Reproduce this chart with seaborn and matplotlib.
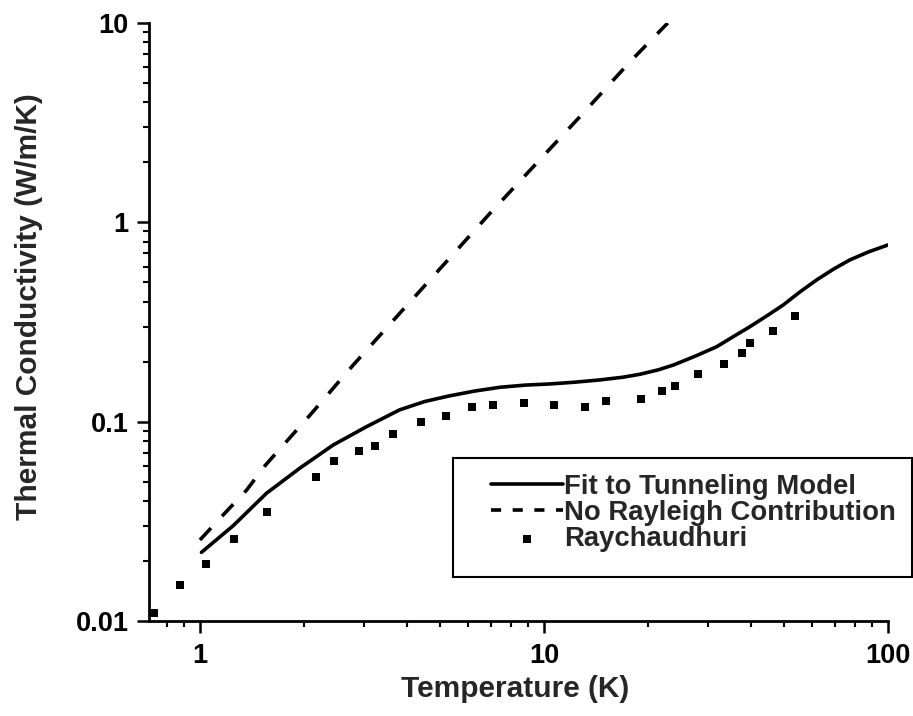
import matplotlib

matplotlib.use("Agg", force=True)
import matplotlib.pyplot as plt
import matplotlib.patches as mpatches
import matplotlib.ticker as mticker
import seaborn as sns

# Fit to tunneling model (solid)
FIT_T = [1.01, 1.25, 1.56, 1.95, 2.44, 3.05, 3.8, 4.5, 5.3, 6.3, 7.45, 8.8, 10.4, 12.3,
         14.5, 17.0, 19.0, 21.5, 23.8, 27.5, 31.8, 35.5, 39.7, 44.5, 49.6, 55.5, 62.0,
         69.5, 77.5, 88.0, 100.0]
FIT_K = [0.0221, 0.0301, 0.0437, 0.0584, 0.0764, 0.0944, 0.1145, 0.1262, 0.1346, 0.1425,
         0.1488, 0.1525, 0.1546, 0.1578, 0.1619, 0.1672, 0.1729, 0.1820, 0.1925, 0.2130,
         0.2379, 0.2670, 0.2997, 0.3400, 0.3850, 0.4480, 0.5140, 0.5830, 0.6480, 0.7120,
         0.7700]

# No Rayleigh contribution (dashed)
NR_T = [1.0, 1.156, 1.367, 1.55, 2.09, 2.79, 3.77, 5.10, 6.97, 13.0, 17.8, 22.9]
NR_K = [0.0255, 0.0334, 0.0454, 0.0605, 0.108, 0.1925, 0.343, 0.611, 1.111, 3.53, 6.40, 10.0]

# Raychaudhuri data (squares)
RAY_T = [0.735, 0.875, 1.04, 1.26, 1.57, 2.17, 2.45, 2.90, 3.23, 3.63, 4.40, 5.19, 6.18,
         7.10, 8.73, 10.7, 13.2, 15.1, 19.2, 22.0, 24.1, 28.0, 33.4, 37.6, 39.6, 46.2, 53.8]
RAY_K = [0.0110, 0.0152, 0.0194, 0.0258, 0.0352, 0.0530, 0.0633, 0.0713, 0.0758, 0.0867,
         0.0993, 0.107, 0.1186, 0.1213, 0.1234, 0.1213, 0.1181, 0.1263, 0.1292, 0.1426,
         0.1504, 0.1741, 0.1954, 0.2204, 0.2491, 0.2862, 0.3392]

W, H = 913, 716


def set_style() -> None:
    sns.set_theme(style="ticks")
    plt.rcParams["font.family"] = ["Liberation Sans", "DejaVu Sans"]
    plt.rcParams["font.weight"] = "bold"
    plt.rcParams["axes.linewidth"] = 2.0
    plt.rcParams["axes.edgecolor"] = "black"
    for ax_name in ("xtick", "ytick"):
        plt.rcParams[f"{ax_name}.color"] = "black"
        plt.rcParams[f"{ax_name}.major.size"] = 8.5
        plt.rcParams[f"{ax_name}.minor.size"] = 4.5
        plt.rcParams[f"{ax_name}.major.width"] = 1.8
        plt.rcParams[f"{ax_name}.minor.width"] = 1.5
        plt.rcParams[f"{ax_name}.major.pad"] = 6
        plt.rcParams[f"{ax_name}.labelsize"] = 19.5


def main() -> None:
    set_style()
    fig = plt.figure(figsize=(W / 100, H / 100), dpi=100)
    ax = fig.add_axes([149 / W, 1 - 621 / H, (888 - 149) / W, (621 - 23) / H])

    sns.lineplot(x=FIT_T, y=FIT_K, color="black", linewidth=2.6, sort=False,
                 label="Fit to Tunneling Model", ax=ax)
    sns.lineplot(x=NR_T, y=NR_K, color="black", linewidth=2.6, sort=False,
                 linestyle=(0, (4.5, 4.5)), label="No Rayleigh Contribution", ax=ax)
    sns.scatterplot(x=RAY_T, y=RAY_K, color="black", marker="s", s=30, linewidth=0,
                    label="Raychaudhuri", ax=ax)

    ax.set_xscale("log")
    ax.set_yscale("log")
    ax.set_xlim(0.711, 100)
    ax.set_ylim(0.01, 10)
    fmt = mticker.FuncFormatter(lambda v, _: f"{v:g}")
    ax.xaxis.set_major_formatter(fmt)
    ax.yaxis.set_major_formatter(fmt)
    ax.xaxis.set_minor_formatter(mticker.NullFormatter())
    ax.yaxis.set_minor_formatter(mticker.NullFormatter())
    ax.tick_params(axis="x", which="major", pad=7)

    ax.set_xlabel("Temperature (K)", fontsize=21.5, fontweight="bold")
    ax.set_ylabel("Thermal Conductivity (W/m/K)", fontsize=21.5, fontweight="bold")
    ax.xaxis.set_label_coords((515 - 149) / 739, (621 - 675) / 598)
    ax.yaxis.set_label_coords((43 - 149) / 739, (621 - 307) / 598)
    sns.despine(ax=ax)

    leg = ax.legend(loc="upper left", bbox_to_anchor=(491 / W, 1 - 474 / H),
                    bbox_transform=fig.transFigure, frameon=False, fontsize=19.8,
                    handlelength=2.6, handletextpad=0.05, labelspacing=0.0,
                    borderpad=0, borderaxespad=0, scatterpoints=1)
    for text in leg.get_texts():
        text.set_fontweight("bold")
    # shorter dashes in the legend key, as in the original
    leg.legend_handles[1].set_linestyle((0, (2.8, 3.2)))
    fig.patches.append(mpatches.Rectangle((453 / W, 1 - 577 / H), (912 - 453) / W,
                                          (577 - 458) / H, transform=fig.transFigure,
                                          fill=False, edgecolor="black", linewidth=1.5))

    fig.savefig("out.png", dpi=100, facecolor="white")
    plt.close(fig)


if __name__ == "__main__":
    main()
